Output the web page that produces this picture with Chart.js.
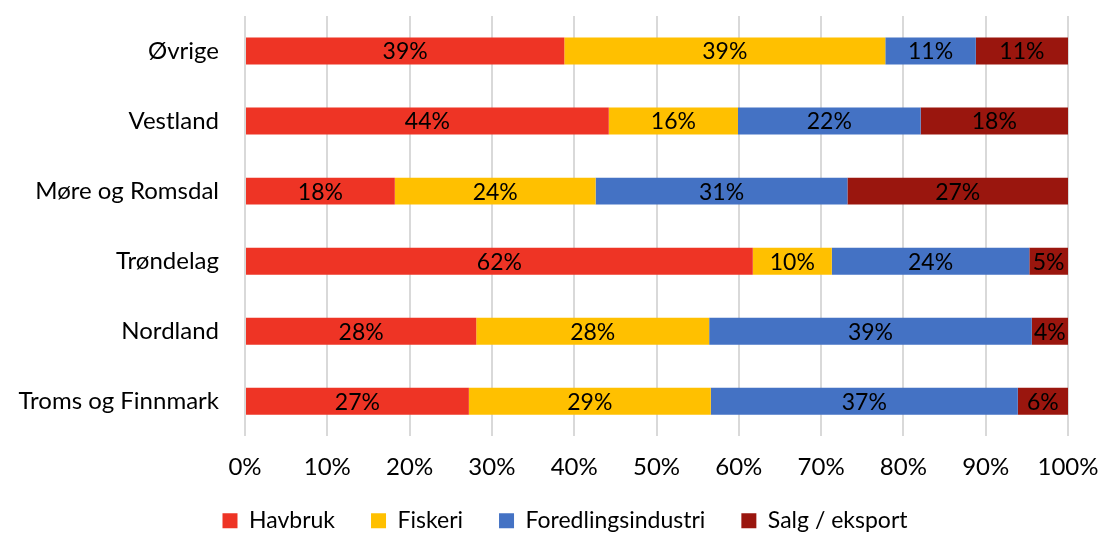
<!DOCTYPE html>
<html>
<head>
<meta charset="utf-8">
<script src="https://cdn.jsdelivr.net/npm/chart.js@4/dist/chart.umd.min.js"></script>
<style>
  html, body { margin: 0; padding: 0; background: #fff; }
  #wrap { width: 1100px; height: 534px; }
</style>
</head>
<body>
<div id="wrap"><canvas id="chart_area" width="1100" height="534"></canvas></div>
<script>
'use strict';

// Data
var regions = ['Øvrige', 'Vestland', 'Møre og Romsdal', 'Trøndelag', 'Nordland', 'Troms og Finnmark'];
var havbruk = [38.8, 44.2, 18.2, 61.7, 28.1, 27.2];
var fiskeri = [39.0, 15.7, 24.4, 9.6, 28.3, 29.4];
var foredling = [11.0, 22.2, 30.6, 24.0, 39.2, 37.3];
var salg = [11.2, 17.9, 26.8, 4.7, 4.4, 6.1];
var xTicks = [0, 10, 20, 30, 40, 50, 60, 70, 80, 90, 100];

var FONT = 'Lato, "Open Sans", sans-serif';

// Labels in the middle of each bar segment
var segmentLabels = {
    id: 'segmentLabels',
    afterDatasetsDraw: function(chart) {
        var ctx = chart.ctx;
        ctx.save();
        ctx.font = '23px ' + FONT;
        ctx.fillStyle = '#000';
        ctx.textAlign = 'center';
        ctx.textBaseline = 'middle';
        chart.data.datasets.forEach(function(ds, i) {
            var meta = chart.getDatasetMeta(i);
            meta.data.forEach(function(bar, j) {
                var cx = (bar.x + bar.base) / 2;
                ctx.fillText(Math.round(ds.data[j]) + '%', cx, bar.y + 1);
            });
        });
        ctx.restore();
    }
};

// Legend sits a bit right of the canvas centre and close to the bottom edge
var legendShift = {
    id: 'legendShift',
    afterLayout: function(chart) {
        chart.legend.left += 31;
        chart.legend.right += 31;
        chart.legend.top -= 13;
        chart.legend.bottom -= 13;
    }
};

var config = {
    type: 'bar',
    data: {
        labels: regions,
        datasets: [
            { label: 'Havbruk', data: havbruk, backgroundColor: '#EE3425' },
            { label: 'Fiskeri', data: fiskeri, backgroundColor: '#FFC000' },
            { label: 'Foredlingsindustri', data: foredling, backgroundColor: '#4472C4' },
            { label: 'Salg / eksport', data: salg, backgroundColor: '#9A160E' }
        ]
    },
    options: {
        indexAxis: 'y',
        responsive: false,
        animation: false,
        layout: { padding: { top: 16, right: 32, left: 0, bottom: -21.3 } },
        datasets: {
            bar: { categoryPercentage: 1, barPercentage: 0.385, borderWidth: 0 }
        },
        plugins: {
            legend: {
                position: 'bottom',
                labels: {
                    font: { family: FONT, size: 23, lineHeight: 1.2 },
                    color: '#000',
                    boxWidth: 15,
                    boxHeight: 15,
                    padding: 36
                }
            },
            tooltip: { enabled: false }
        },
        scales: {
            x: {
                stacked: true,
                min: 0,
                max: 100,
                afterBuildTicks: function(axis) {
                    axis.ticks = xTicks.map(function(v) { return { value: v }; });
                },
                ticks: {
                    font: { family: FONT, size: 24 },
                    color: '#000',
                    padding: 17,
                    maxRotation: 0,
                    callback: function(v) { return v + '%'; }
                },
                grid: { color: '#D9D9D9', lineWidth: 2, drawTicks: false },
                border: { display: false },
                afterFit: function(axis) {
                    axis.height = 50;
                    axis.paddingLeft = 0;
                    axis.paddingRight = 0;
                }
            },
            y: {
                stacked: true,
                ticks: {
                    font: { family: FONT, size: 24 },
                    color: '#000',
                    padding: 26
                },
                grid: { display: false, drawTicks: false },
                border: { display: false },
                afterFit: function(axis) {
                    axis.width = 245;
                    axis.paddingTop = 0;
                    axis.paddingBottom = 0;
                }
            }
        }
    },
    plugins: [segmentLabels, legendShift]
};

var ctx = document.getElementById('chart_area').getContext('2d');
window.myBar = new Chart(ctx, config);
</script>
</body>
</html>
